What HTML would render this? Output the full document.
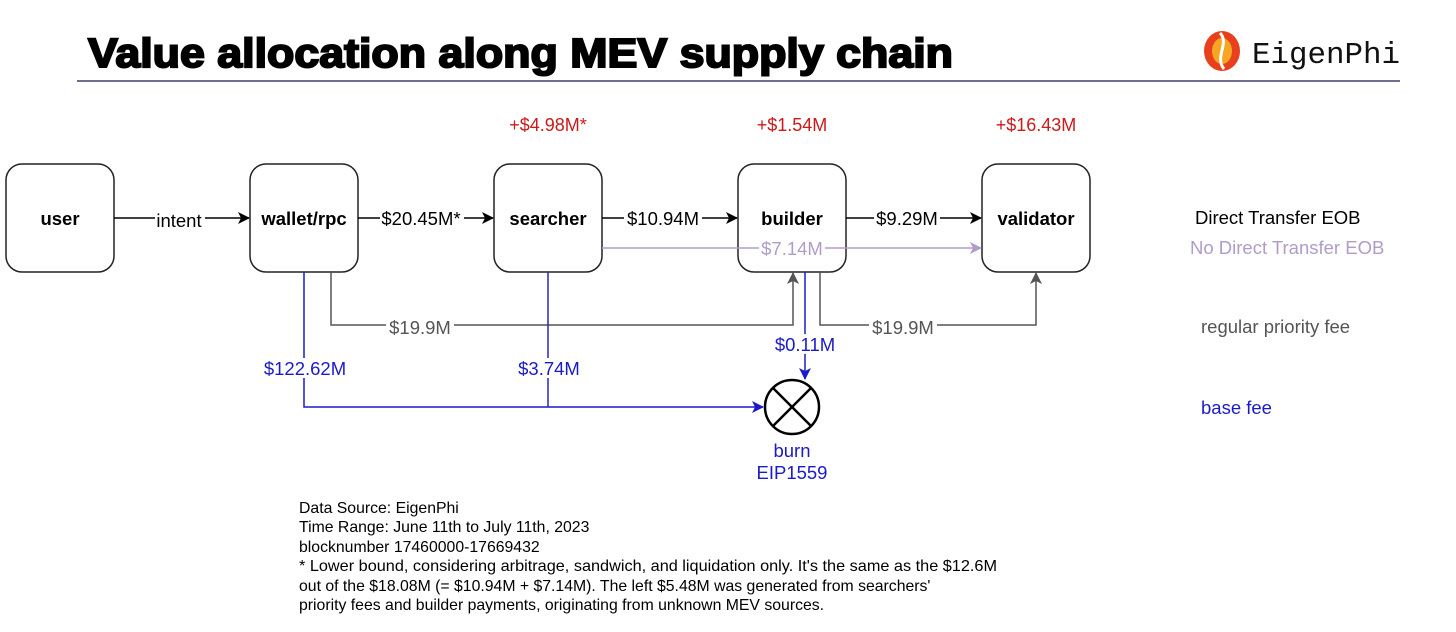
<!DOCTYPE html>
<html><head><meta charset="utf-8"><style>
html,body{margin:0;padding:0;background:#fff;}
svg{display:block;font-family:"Liberation Sans",Arial,sans-serif;}
</style></head><body>
<svg width="1456" height="632" viewBox="0 0 1456 632" xmlns="http://www.w3.org/2000/svg">
<defs>
<marker id="ab" markerWidth="12" markerHeight="12" refX="11" refY="6" orient="auto" markerUnits="userSpaceOnUse"><path d="M0,0 L12,6 L0,12 L3,6 z" fill="#000"/></marker>
<marker id="ag" markerWidth="12" markerHeight="12" refX="11" refY="6" orient="auto" markerUnits="userSpaceOnUse"><path d="M0,0 L12,6 L0,12 L3,6 z" fill="#555"/></marker>
<marker id="ap" markerWidth="12" markerHeight="12" refX="11" refY="6" orient="auto" markerUnits="userSpaceOnUse"><path d="M0,0 L12,6 L0,12 L3,6 z" fill="#b09cc8"/></marker>
<marker id="au" markerWidth="12" markerHeight="12" refX="11" refY="6" orient="auto" markerUnits="userSpaceOnUse"><path d="M0,0 L12,6 L0,12 L3,6 z" fill="#1a1ac8"/></marker>
</defs>
<text x="88" y="67" font-size="41" font-weight="900" fill="#000" stroke="#000" stroke-width="2" textLength="865" lengthAdjust="spacingAndGlyphs">Value allocation along MEV supply chain</text>
<line x1="77" y1="81" x2="1400" y2="81" stroke="#6e6e8e" stroke-width="2"/>
<g transform="translate(1222,51)">
<ellipse cx="0" cy="0" rx="18" ry="20" fill="#e8401c"/>
<ellipse cx="0" cy="0" rx="10" ry="13" fill="#f5a623"/>
<path d="M-2,-18 C8,-8 -8,6 2,18" stroke="#fff" stroke-width="3" fill="none"/>
</g>
<text x="1252" y="63" font-size="31" font-family="Liberation Mono,monospace" fill="#111" textLength="148" lengthAdjust="spacingAndGlyphs">EigenPhi</text>
<g fill="#fff" stroke="#222" stroke-width="1.5">
<rect x="6" y="164" width="108" height="108" rx="16"/>
<rect x="250" y="164" width="108" height="108" rx="16"/>
<rect x="494" y="164" width="108" height="108" rx="16"/>
<rect x="738" y="164" width="108" height="108" rx="16"/>
<rect x="982" y="164" width="108" height="108" rx="16"/>
</g>
<g font-size="18.5" font-weight="bold" text-anchor="middle" fill="#000">
<text x="60" y="225">user</text>
<text x="304" y="225">wallet/rpc</text>
<text x="548" y="225">searcher</text>
<text x="792" y="225">builder</text>
<text x="1036" y="225">validator</text>
</g>
<g font-size="18" text-anchor="middle" fill="#cc1a1a">
<text x="548" y="131">+$4.98M*</text>
<text x="792" y="131">+$1.54M</text>
<text x="1036" y="131">+$16.43M</text>
</g>
<g stroke="#000" stroke-width="1.5" fill="none">
<line x1="114" y1="218" x2="249" y2="218" marker-end="url(#ab)"/>
<line x1="358" y1="218" x2="493" y2="218" marker-end="url(#ab)"/>
<line x1="602" y1="218" x2="737" y2="218" marker-end="url(#ab)"/>
<line x1="846" y1="218" x2="981" y2="218" marker-end="url(#ab)"/>
</g>
<line x1="602" y1="248" x2="981" y2="248" stroke="#b09cc8" stroke-width="1.5" marker-end="url(#ap)"/>
<g stroke="#555" stroke-width="1.5" fill="none">
<polyline points="331,272 331,325 793,325 793,273" marker-end="url(#ag)"/>
<polyline points="820,272 820,325 1036,325 1036,273" marker-end="url(#ag)"/>
</g>
<g stroke="#2a2aa8" stroke-width="1.5" fill="none">
<polyline points="304,272 304,407 763,407" stroke="#1a1ac8" marker-end="url(#au)"/>
<polyline points="548,272 548,407"/>
<line x1="805" y1="272" x2="805" y2="379" stroke="#1a1ac8" marker-end="url(#au)"/>
</g>
<circle cx="792" cy="407" r="27" fill="#fff" stroke="#000" stroke-width="2.5"/>
<line x1="773" y1="388" x2="811" y2="426" stroke="#000" stroke-width="2.5"/>
<line x1="811" y1="388" x2="773" y2="426" stroke="#000" stroke-width="2.5"/>
<g font-size="18.5" text-anchor="middle">
<rect x="155" y="208" width="50" height="20" fill="#fff"/><text x="179" y="227" fill="#000">intent</text>
<rect x="380" y="208" width="84" height="20" fill="#fff"/><text x="421" y="225" fill="#000">$20.45M*</text>
<rect x="624" y="208" width="78" height="20" fill="#fff"/><text x="663" y="225" fill="#000">$10.94M</text>
<rect x="874" y="208" width="66" height="20" fill="#fff"/><text x="907" y="225" fill="#000">$9.29M</text>
<rect x="759" y="238" width="66" height="20" fill="#fff"/><text x="792" y="255" fill="#b09cc8">$7.14M</text>
<rect x="386" y="316" width="68" height="20" fill="#fff"/><text x="420" y="334" fill="#555">$19.9M</text>
<rect x="869" y="316" width="68" height="20" fill="#fff"/><text x="903" y="334" fill="#555">$19.9M</text>
<rect x="258" y="358" width="94" height="20" fill="#fff"/><text x="305" y="375" fill="#1a1ac8">$122.62M</text>
<rect x="514" y="358" width="70" height="20" fill="#fff"/><text x="549" y="375" fill="#1a1ac8">$3.74M</text>
<rect x="772" y="334" width="66" height="20" fill="#fff"/><text x="805" y="351" fill="#1a1ac8">$0.11M</text>
<text x="792" y="457" fill="#1a1ac8">burn</text>
<text x="792" y="479" fill="#1a1ac8">EIP1559</text>
</g>
<g font-size="18.5">
<text x="1195" y="224" fill="#000">Direct Transfer EOB</text>
<text x="1190" y="254" fill="#b09cc8">No Direct Transfer EOB</text>
<text x="1201" y="333" fill="#555">regular priority fee</text>
<text x="1201" y="414" fill="#1a1ac8">base fee</text>
</g>
<g font-size="15.8" fill="#000">
<text x="299" y="513">Data Source: EigenPhi</text>
<text x="299" y="532">Time Range: June 11th to July 11th, 2023</text>
<text x="299" y="552">blocknumber 17460000-17669432</text>
<text x="299" y="571" textLength="698" lengthAdjust="spacingAndGlyphs">* Lower bound, considering arbitrage, sandwich, and liquidation only. It's the same as the $12.6M</text>
<text x="299" y="591">out of the $18.08M (= $10.94M + $7.14M). The left $5.48M was generated from searchers'</text>
<text x="299" y="610">priority fees and builder payments, originating from unknown MEV sources.</text>
</g>
</svg>
</body></html>
